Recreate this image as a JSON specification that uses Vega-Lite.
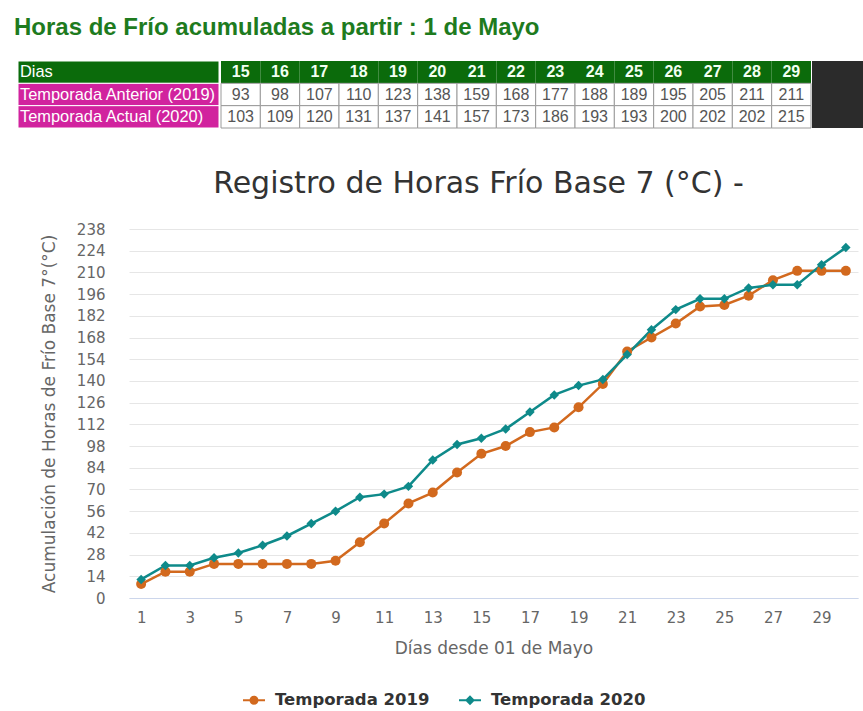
{
  "$schema": "https://vega.github.io/schema/vega-lite/v6.json",
  "padding": {"left": 11, "top": 15, "right": 0, "bottom": 0},
  "background": "white",
  "config": {"view": {"stroke": null}},
  "title": {"text": "Horas de Frío acumuladas a partir : 1 de Mayo", "anchor": "start", "font": "Liberation Sans", "fontSize": 24, "fontWeight": "bold", "color": "#1E7B1E", "offset": 21, "dx": 3},
  "datasets": {
    "horas": [
      {"dia": 1, "serie": "Temporada 2019", "horas": 9},
      {"dia": 2, "serie": "Temporada 2019", "horas": 17},
      {"dia": 3, "serie": "Temporada 2019", "horas": 17},
      {"dia": 4, "serie": "Temporada 2019", "horas": 22},
      {"dia": 5, "serie": "Temporada 2019", "horas": 22},
      {"dia": 6, "serie": "Temporada 2019", "horas": 22},
      {"dia": 7, "serie": "Temporada 2019", "horas": 22},
      {"dia": 8, "serie": "Temporada 2019", "horas": 22},
      {"dia": 9, "serie": "Temporada 2019", "horas": 24},
      {"dia": 10, "serie": "Temporada 2019", "horas": 36},
      {"dia": 11, "serie": "Temporada 2019", "horas": 48},
      {"dia": 12, "serie": "Temporada 2019", "horas": 61},
      {"dia": 13, "serie": "Temporada 2019", "horas": 68},
      {"dia": 14, "serie": "Temporada 2019", "horas": 81},
      {"dia": 15, "serie": "Temporada 2019", "horas": 93},
      {"dia": 16, "serie": "Temporada 2019", "horas": 98},
      {"dia": 17, "serie": "Temporada 2019", "horas": 107},
      {"dia": 18, "serie": "Temporada 2019", "horas": 110},
      {"dia": 19, "serie": "Temporada 2019", "horas": 123},
      {"dia": 20, "serie": "Temporada 2019", "horas": 138},
      {"dia": 21, "serie": "Temporada 2019", "horas": 159},
      {"dia": 22, "serie": "Temporada 2019", "horas": 168},
      {"dia": 23, "serie": "Temporada 2019", "horas": 177},
      {"dia": 24, "serie": "Temporada 2019", "horas": 188},
      {"dia": 25, "serie": "Temporada 2019", "horas": 189},
      {"dia": 26, "serie": "Temporada 2019", "horas": 195},
      {"dia": 27, "serie": "Temporada 2019", "horas": 205},
      {"dia": 28, "serie": "Temporada 2019", "horas": 211},
      {"dia": 29, "serie": "Temporada 2019", "horas": 211},
      {"dia": 30, "serie": "Temporada 2019", "horas": 211},
      {"dia": 1, "serie": "Temporada 2020", "horas": 12},
      {"dia": 2, "serie": "Temporada 2020", "horas": 21},
      {"dia": 3, "serie": "Temporada 2020", "horas": 21},
      {"dia": 4, "serie": "Temporada 2020", "horas": 26},
      {"dia": 5, "serie": "Temporada 2020", "horas": 29},
      {"dia": 6, "serie": "Temporada 2020", "horas": 34},
      {"dia": 7, "serie": "Temporada 2020", "horas": 40},
      {"dia": 8, "serie": "Temporada 2020", "horas": 48},
      {"dia": 9, "serie": "Temporada 2020", "horas": 56},
      {"dia": 10, "serie": "Temporada 2020", "horas": 65},
      {"dia": 11, "serie": "Temporada 2020", "horas": 67},
      {"dia": 12, "serie": "Temporada 2020", "horas": 72},
      {"dia": 13, "serie": "Temporada 2020", "horas": 89},
      {"dia": 14, "serie": "Temporada 2020", "horas": 99},
      {"dia": 15, "serie": "Temporada 2020", "horas": 103},
      {"dia": 16, "serie": "Temporada 2020", "horas": 109},
      {"dia": 17, "serie": "Temporada 2020", "horas": 120},
      {"dia": 18, "serie": "Temporada 2020", "horas": 131},
      {"dia": 19, "serie": "Temporada 2020", "horas": 137},
      {"dia": 20, "serie": "Temporada 2020", "horas": 141},
      {"dia": 21, "serie": "Temporada 2020", "horas": 157},
      {"dia": 22, "serie": "Temporada 2020", "horas": 173},
      {"dia": 23, "serie": "Temporada 2020", "horas": 186},
      {"dia": 24, "serie": "Temporada 2020", "horas": 193},
      {"dia": 25, "serie": "Temporada 2020", "horas": 193},
      {"dia": 26, "serie": "Temporada 2020", "horas": 200},
      {"dia": 27, "serie": "Temporada 2020", "horas": 202},
      {"dia": 28, "serie": "Temporada 2020", "horas": 202},
      {"dia": 29, "serie": "Temporada 2020", "horas": 215},
      {"dia": 30, "serie": "Temporada 2020", "horas": 226}
    ],
    "etiquetas": [
      {"fila": "Dias", "etiqueta": "Dias"},
      {"fila": "Temporada 2019", "etiqueta": "Temporada Anterior (2019)"},
      {"fila": "Temporada 2020", "etiqueta": "Temporada Actual (2020)"}
    ]
  },
  "spacing": 40,
  "vconcat": [
    {
      "spacing": 0,
      "hconcat": [
        {
          "width": 6,
          "height": 67,
          "data": {"values": []},
          "mark": "rect"
        },
        {
          "width": 201,
          "height": 67,
          "data": {"name": "etiquetas"},
          "encoding": {
            "y": {"field": "fila", "type": "nominal", "scale": {"domain": ["Dias", "Temporada 2019", "Temporada 2020"], "paddingInner": 0, "paddingOuter": 0}, "axis": null}
          },
          "layer": [
            {
              "mark": {"type": "rect", "stroke": "#FFFFFF", "strokeWidth": 1},
              "encoding": {
                "x": {"value": 0},
                "x2": {"value": "width"},
                "fill": {"field": "fila", "type": "nominal", "scale": {"domain": ["Dias", "Temporada 2019", "Temporada 2020"], "range": ["#0B6B0B", "#D1239E", "#D1239E"]}, "legend": null}
              }
            },
            {
              "mark": {"type": "text", "align": "left", "baseline": "middle", "dx": 2, "font": "Liberation Sans", "fontSize": 16.4, "color": "#FFFFFF"},
              "encoding": {"x": {"value": 0}, "text": {"field": "etiqueta"}}
            }
          ]
        },
        {
          "width": 590,
          "height": 67,
          "data": {"name": "horas"},
          "transform": [{"filter": "datum.dia >= 15 && datum.dia <= 29"}],
          "encoding": {
            "x": {"field": "dia", "type": "ordinal", "scale": {"paddingInner": 0, "paddingOuter": 0}, "axis": null}
          },
          "layer": [
            {
              "transform": [{"filter": "datum.serie === 'Temporada 2019'"}],
              "mark": {"type": "rect", "fill": "#0B6B0B"},
              "encoding": {"y": {"datum": "Dias", "type": "nominal", "scale": {"domain": ["Dias", "Temporada 2019", "Temporada 2020"], "paddingInner": 0, "paddingOuter": 0}, "axis": null}}
            },
            {
              "mark": {"type": "rect", "fill": "#FFFFFF", "stroke": "#9A9A9A", "strokeWidth": 1},
              "encoding": {"y": {"field": "serie", "type": "nominal", "scale": {"domain": ["Dias", "Temporada 2019", "Temporada 2020"], "paddingInner": 0, "paddingOuter": 0}, "axis": null}}
            },
            {
              "transform": [{"filter": "datum.serie === 'Temporada 2019'"}],
              "mark": {"type": "text", "baseline": "middle", "font": "Liberation Sans", "fontSize": 16, "fontWeight": "bold", "color": "#F2FFF2"},
              "encoding": {"y": {"datum": "Dias", "type": "nominal"}, "text": {"field": "dia"}}
            },
            {
              "mark": {"type": "text", "baseline": "middle", "font": "Liberation Sans", "fontSize": 16, "color": "#555555"},
              "encoding": {"y": {"field": "serie", "type": "nominal"}, "text": {"field": "horas"}}
            }
          ]
        },
        {
          "width": 55,
          "height": 67,
          "data": {"values": [{"bloque": 1}]},
          "mark": {"type": "rect", "fill": "#2B2B2B"},
          "encoding": {"x": {"value": 0}, "x2": {"value": "width"}, "y": {"value": 0}, "y2": {"value": "height"}}
        }
      ]
    },
    {
      "spacing": 10,
      "hconcat": [
        {
          "width": 19,
          "height": 369,
          "data": {"values": []},
          "mark": "rect"
        },
        {
          "width": 729,
          "height": 369,
          "data": {"name": "horas"},
          "title": {"text": "Registro de Horas Frío Base 7 (°C) -", "font": "DejaVu Sans", "fontSize": 30, "fontWeight": "normal", "color": "#333333", "anchor": "middle", "dx": -15, "offset": 23},
          "encoding": {
            "x": {
              "field": "dia", "type": "quantitative",
              "scale": {"domain": [0.5, 30.5], "nice": false, "zero": false},
              "axis": {"values": [1, 3, 5, 7, 9, 11, 13, 15, 17, 19, 21, 23, 25, 27, 29], "title": "Días desde 01 de Mayo", "grid": false, "ticks": false, "domainColor": "#CCD6EB", "domainWidth": 1, "labelFont": "DejaVu Sans", "labelFontSize": 15, "labelColor": "#666666", "labelPadding": 12, "titleFont": "DejaVu Sans", "titleFontSize": 17, "titleFontWeight": "normal", "titleColor": "#666666", "titlePadding": 15}
            },
            "y": {
              "field": "horas", "type": "quantitative",
              "scale": {"domain": [0, 238], "nice": false},
              "axis": {"values": [0, 14, 28, 42, 56, 70, 84, 98, 112, 126, 140, 154, 168, 182, 196, 210, 224, 238], "title": "Acumulación de Horas de Frío Base 7°(°C)", "domain": false, "ticks": false, "grid": true, "gridColor": "#E6E6E6", "gridWidth": 1, "labelFont": "DejaVu Sans", "labelFontSize": 15, "labelColor": "#666666", "labelPadding": 24, "titleFont": "DejaVu Sans", "titleFontSize": 17, "titleFontWeight": "normal", "titleColor": "#666666", "titlePadding": 18}
            },
            "color": {
              "field": "serie", "type": "nominal",
              "scale": {"domain": ["Temporada 2019", "Temporada 2020"], "range": ["#D2691E", "#0E8A8A"]},
              "legend": {
                "title": null, "orient": "none", "legendX": 232, "legendY": 628, "direction": "horizontal",
                "symbolSize": 484, "labelFont": "DejaVu Sans", "labelFontSize": 16.5, "labelFontWeight": "bold", "labelColor": "#333333",
                "labelOffset": 10, "columnPadding": 29, "symbolStrokeWidth": 0,
                "encode": {
                  "symbols": {
                    "update": {
                      "shape": {"signal": "datum.value === 'Temporada 2019' ? 'M-1,-0.09L1,-0.09L1,0.09L-1,0.09Z M0.41,0A0.41,0.41 0 1,1 -0.41,0A0.41,0.41 0 1,1 0.41,0Z' : 'M-1,-0.09L1,-0.09L1,0.09L-1,0.09Z M0,-0.45L0.45,0L0,0.45L-0.45,0Z'"},
                      "fill": {"scale": "color", "field": "value"},
                      "stroke": {"value": "transparent"},
                      "opacity": {"value": 1}
                    }
                  }
                }
              }
            }
          },
          "layer": [
            {"mark": {"type": "line", "strokeWidth": 2.5}},
            {
              "mark": {"type": "point", "filled": true, "opacity": 1},
              "encoding": {
                "shape": {"condition": {"test": "datum.serie === 'Temporada 2019'", "value": "circle"}, "value": "diamond"},
                "size": {"condition": {"test": "datum.serie === 'Temporada 2019'", "value": 100}, "value": 90}
              }
            }
          ]
        }
      ]
    }
  ]
}
